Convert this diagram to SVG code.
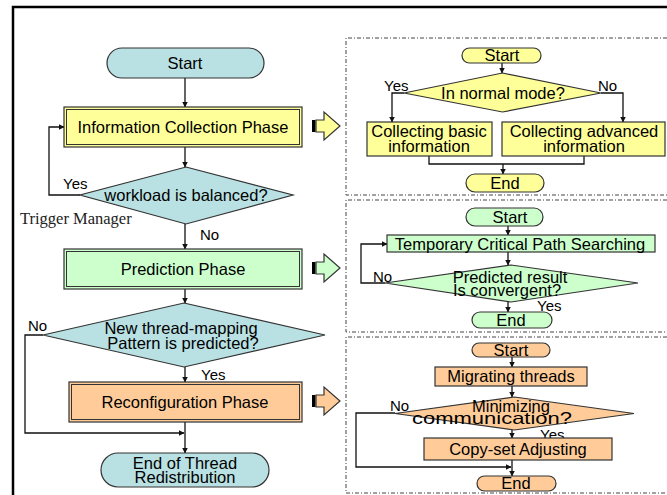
<svg xmlns="http://www.w3.org/2000/svg" width="667" height="495" viewBox="0 0 667 495">
<style>
text{font-family:"Liberation Sans",Arial,sans-serif;font-size:16.5px;fill:#000;text-anchor:middle}
.lbl{font-size:15px;text-anchor:start}
.serif{font-family:"Liberation Serif","Times New Roman",serif;fill:#222;text-anchor:start}
.teal{fill:#b9e0e3;stroke:#333;stroke-width:1.2}
.yel{fill:#ffff99;stroke:#333;stroke-width:1.2}
.grn{fill:#ccffcc;stroke:#333;stroke-width:1.2}
.org{fill:#ffcc99;stroke:#333;stroke-width:1.2}
.in{fill:none;stroke:#333;stroke-width:1}
.ln{fill:none;stroke:#111;stroke-width:1.3}
.ar{fill:none;stroke:#111;stroke-width:1.3;marker-end:url(#ah)}
.panel{fill:none;stroke:#444;stroke-width:1;stroke-dasharray:4 2 1 2}
</style>
<defs>
<marker id="ah" markerWidth="6" markerHeight="6" refX="5.5" refY="3" orient="auto" markerUnits="userSpaceOnUse">
<path d="M0,0 L6,3 L0,6 Z" fill="#111"/>
</marker>
</defs>
<rect width="667" height="495" fill="#fff"/>
<g id="frame"><path d="M13,495 V7 H667" fill="none" stroke="#000" stroke-width="2.5"/></g>
<g id="panels">
<path class="panel" d="M667,38 H346 V195 H667"/>
<path class="panel" d="M667,200 H346 V332 H667"/>
<path class="panel" d="M667,337 H346 V493 H667"/>
</g>
<g id="connectors">
<path class="ar" d="M185,78 V107"/>
<path class="ar" d="M185,147 V167"/>
<path class="ar" d="M80,195 H49 V127 H64"/>
<path class="ar" d="M185,224 V249"/>
<path class="ar" d="M185,289 V303"/>
<path class="ar" d="M43,335 H25 V433 H184"/>
<path class="ar" d="M185,367 V382"/>
<path class="ar" d="M185,422 V453"/>
<path class="ar" d="M502,63 V73"/>
<path class="ar" d="M404,93 H392 V122"/>
<path class="ar" d="M601,93 H623 V122"/>
<path class="ln" d="M429,156 V164 H584 V156"/>
<path class="ar" d="M503,164 V174"/>
<path class="ar" d="M508,226 V235"/>
<path class="ar" d="M508,252 V265"/>
<path class="ar" d="M385,283 H361 V244 H387"/>
<path class="ar" d="M508,302 V312"/>
<path class="ar" d="M512,357 V367"/>
<path class="ar" d="M512,386 V397"/>
<path class="ar" d="M395,413 H356 V467 H511"/>
<path class="ar" d="M512,430 V438"/>
<path class="ar" d="M512,460 V476"/>
</g>
<g id="start"><rect class="teal" x="107" y="48" width="157" height="30" rx="15"/><text x="185" y="69">Start</text></g>
<g id="info"><rect class="yel" x="64" y="107" width="238" height="40"/><rect class="in" x="66.5" y="109.5" width="233" height="35"/><text x="183" y="133">Information Collection Phase</text></g>
<g id="balanced"><polygon class="teal" points="186,167 293,195 186,224 80,195"/><text x="186" y="201">workload is balanced?</text>
<text class="lbl" x="63" y="189">Yes</text><text class="lbl" x="200" y="240">No</text></g>
<text class="serif" x="20" y="224">Trigger Manager</text>
<g id="prediction"><rect class="grn" x="64" y="249" width="238" height="40"/><rect class="in" x="66.5" y="251.5" width="233" height="35"/><text x="183" y="275">Prediction Phase</text></g>
<g id="newpattern"><polygon class="teal" points="184,303 325,335 184,367 43,335"/><text x="181" y="334">New thread-mapping</text><text x="183" y="349">Pattern is predicted?</text>
<text class="lbl" x="28" y="331">No</text><text class="lbl" x="201" y="380">Yes</text></g>
<g id="reconfig"><rect class="org" x="69" y="382" width="233" height="40"/><rect class="in" x="71.5" y="384.5" width="228" height="35"/><text x="185" y="408">Reconfiguration Phase</text></g>
<g id="end"><rect class="teal" x="101" y="453" width="168" height="34" rx="17"/><text x="185" y="469">End of Thread</text><text x="185" y="483">Redistribution</text></g>
<g id="arrow1"><rect x="312" y="120" width="3.5" height="12" fill="#000"/><polygon class="yel" points="316,120 324,120 324,112 340,126 324,140 324,132 316,132"/></g>
<g id="arrow2"><rect x="312" y="262" width="3.5" height="12" fill="#000"/><polygon class="grn" points="316,262 324,262 324,254 340,268 324,282 324,274 316,274"/></g>
<g id="arrow3"><rect x="312" y="395" width="3.5" height="12" fill="#000"/><polygon class="org" points="316,395 324,395 324,387 340,401 324,415 324,407 316,407"/></g>
<g id="p1-start"><rect class="yel" x="462" y="48" width="79" height="15" rx="7.5"/><text x="502" y="61">Start</text></g>
<g id="p1-mode"><polygon class="yel" points="502.5,73 601,93 502.5,112 404,93"/><text x="503" y="99">In normal mode?</text>
<text class="lbl" x="384" y="91">Yes</text><text class="lbl" x="598" y="91">No</text></g>
<g id="p1-basic"><rect class="yel" x="367" y="122" width="125" height="34"/><text x="429" y="137">Collecting basic</text><text x="429" y="152">information</text></g>
<g id="p1-adv"><rect class="yel" x="502" y="122" width="163" height="34"/><text x="584" y="137">Collecting advanced</text><text x="584" y="152">information</text></g>
<g id="p1-end"><rect class="yel" x="466" y="174" width="78" height="18" rx="9"/><text x="505" y="189">End</text></g>
<g id="p2-start"><rect class="grn" x="466" y="208" width="77" height="18" rx="9"/><text x="510" y="223">Start</text></g>
<g id="p2-search"><rect class="grn" x="387" y="235" width="268" height="17"/><text x="520" y="250">Temporary Critical Path Searching</text></g>
<g id="p2-conv"><polygon class="grn" points="511,265 638,283 511,302 385,283"/><text x="510" y="283">Predicted result</text><text x="507" y="296">Is convergent?</text>
<text class="lbl" x="373" y="282">No</text><text class="lbl" x="537" y="311">Yes</text></g>
<g id="p2-end"><rect class="grn" x="472" y="312" width="80" height="16" rx="8"/><text x="511" y="326">End</text></g>
<g id="p3-start"><rect class="org" x="472" y="343" width="78" height="14" rx="7"/><text x="511" y="356">Start</text></g>
<g id="p3-migrate"><rect class="org" x="435" y="367" width="152" height="19"/><text x="511" y="382">Migrating threads</text></g>
<g id="p3-min"><polygon class="org" points="514.5,397 634,413.5 514.5,430 395,413.5"/><text x="511" y="412">Minimizing</text><text x="492" y="424" textLength="160" lengthAdjust="spacingAndGlyphs">communication?</text>
<text class="lbl" x="390" y="411">No</text><text class="lbl" x="540" y="440">Yes</text></g>
<g id="p3-copy"><rect class="org" x="424" y="438" width="188" height="22"/><text x="518" y="455">Copy-set Adjusting</text></g>
<g id="p3-end"><rect class="org" x="477" y="476" width="79" height="15" rx="7.5"/><text x="516" y="489">End</text></g>
</svg>
